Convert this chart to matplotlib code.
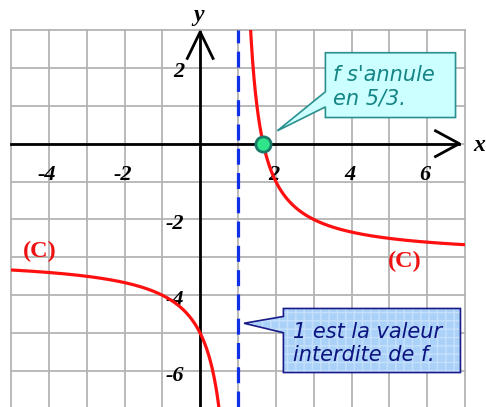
import numpy as np
import matplotlib
matplotlib.use("Agg")
import matplotlib.pyplot as plt
from matplotlib.patches import Polygon

# Function f(x) = a + b / (x - x0)  (f(0) = -5, f(5/3) = 0, asymptotes x=1, y=-3)
a_coef = -3.0
b_coef = 2.0
x_forbidden = 1.0
x_zero = 5.0 / 3.0

x_ticks = [-4, -2, 2, 4, 6]
y_ticks = [2, -2, -4, -6]
x_range = (-5, 7)
y_range = (-6.95, 3)

callout1_text = "f s'annule\nen 5/3."
callout2_text = "1 est la valeur\ninterdite de f."

fig = plt.figure(figsize=(4.86, 4.07), dpi=100)
ax = fig.add_axes([11 / 486, 0, 454 / 486, 377 / 407])
ax.set_xlim(*x_range)
ax.set_ylim(*y_range)
ax.axis("off")

grid_c = "#b4b4b4"
for gx in range(x_range[0], x_range[1] + 1):
    ax.plot([gx, gx], [y_range[0], y_range[1]], color=grid_c, lw=1.3, clip_on=False, zorder=1)
for gy in range(-6, 4):
    ax.plot([x_range[0], x_range[1]], [gy, gy], color=grid_c, lw=1.3, clip_on=False, zorder=1)

# axes with chevron arrows
ax.plot([x_range[0], 6.85], [0, 0], color="black", lw=2.0, zorder=3, clip_on=False)
ax.plot([6.22, 6.85, 6.22], [0.34, 0, -0.34], color="black", lw=2.0, zorder=3, clip_on=False)
ax.plot([0, 0], [y_range[0], 2.95], color="black", lw=2.0, zorder=3, clip_on=False)
ax.plot([-0.34, 0, 0.34], [2.25, 2.95, 2.25], color="black", lw=2.0, zorder=3, clip_on=False)

serif = "Liberation Serif"
ax.text(-0.05, 3.38, "y", fontsize=17, fontweight="bold", fontstyle="italic",
        family=serif, ha="center", va="center", clip_on=False)
ax.text(7.38, -0.05, "x", fontsize=17, fontweight="bold", fontstyle="italic",
        family=serif, ha="center", va="center", clip_on=False)

for t in x_ticks:
    ax.text(t - 0.05, -0.82, str(t), fontsize=16, fontweight="bold",
            fontstyle="italic", family=serif, ha="center", va="center", zorder=4)
for t in y_ticks:
    ax.text(-0.42, t - 0.12, str(t), fontsize=16, fontweight="bold",
            fontstyle="italic", family=serif, ha="right", va="center", zorder=4)

# forbidden value dashed line
ax.plot([x_forbidden, x_forbidden], [y_range[0], y_range[1]], color="#1030e8", lw=2.3,
        dashes=(5.0, 2.6), zorder=2, clip_on=False)

# curve branches
f = lambda x: a_coef + b_coef / (x - x_forbidden)
xl = np.linspace(x_range[0], x_forbidden - 1e-3, 800)
xr = np.linspace(x_forbidden + 1e-3, x_range[1], 800)
for xs in (xl, xr):
    ys = f(xs)
    ys = np.where((ys > y_range[1] + 1) | (ys < y_range[0] - 1), np.nan, ys)
    ax.plot(xs, ys, color="#ff1010", lw=2.3, zorder=5, solid_capstyle="butt")

ax.text(-4.25, -2.85, "(C)", fontsize=17.5, fontweight="bold", family=serif, color="#ee1111",
        ha="center", va="center", zorder=6)
ax.text(5.4, -3.12, "(C)", fontsize=17.5, fontweight="bold", family=serif, color="#ee1111",
        ha="center", va="center", zorder=6)

# zero point
ax.plot([x_zero], [0], "o", ms=11, mfc="#2fe58a", mec="#1a7a6a", mew=2, zorder=7)

# callout 1
c1 = [(3.31, 2.40), (6.75, 2.40), (6.75, 0.69), (3.31, 0.69), (3.31, 0.97),
      (2.04, 0.34), (3.31, 1.37)]
ax.add_patch(Polygon(c1, closed=True, facecolor="#ccffff", edgecolor="#2a8f8f", lw=1.2, zorder=8))
ax.text(3.52, 1.50, callout1_text, fontsize=15, fontstyle="italic", family="DejaVu Sans",
        color="#158484", ha="left", va="center", zorder=9, linespacing=1.2)

# callout 2
c2 = [(2.20, -4.35), (6.88, -4.35), (6.88, -6.04), (2.20, -6.04), (2.20, -4.99),
      (1.16, -4.74), (2.20, -4.56)]
ax.add_patch(Polygon(c2, closed=True, facecolor="#aad2f8", edgecolor="#c6e0fb", lw=0,
                     hatch="++", zorder=8))
ax.add_patch(Polygon(c2, closed=True, facecolor="none", edgecolor="#1a1a8a", lw=1.2, zorder=8))
ax.text(2.45, -5.28, callout2_text, fontsize=15, fontstyle="italic", family="DejaVu Sans",
        color="#0c1480", ha="left", va="center", zorder=9, linespacing=1.2)

fig.savefig("out.png", dpi=100)
